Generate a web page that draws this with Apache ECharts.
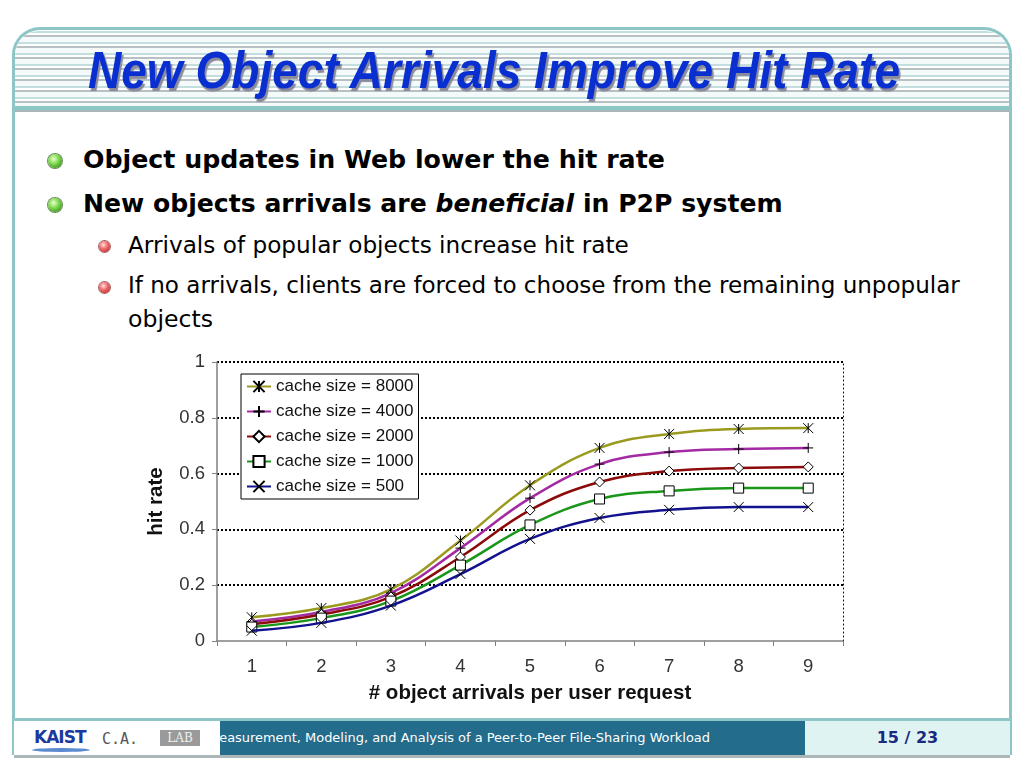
<!DOCTYPE html>
<html><head><meta charset="utf-8">
<script src="https://cdn.jsdelivr.net/npm/echarts@6/dist/echarts.min.js"></script>
<style>
html,body{margin:0;padding:0;width:1024px;height:768px;overflow:hidden;background:#fff;}
#frame{position:absolute;left:12px;top:27px;width:1000px;height:728px;border:3px solid #8cc6c6;border-bottom:none;border-radius:28px 28px 0 0;box-sizing:border-box;}
#stripes{position:absolute;left:15px;top:31px;width:994px;height:76px;
 background:repeating-linear-gradient(to bottom,#c2dede 0px,#c2dede 2px,#ffffff 2px,#ffffff 4px,#b7c1c3 4px,#b7c1c3 6px,#f4f9f9 6px,#f4f9f9 11px);
 border-radius:24px 24px 0 0;}
#tbar{position:absolute;left:15px;top:106px;width:994px;height:4px;background:#8cc6c6;border-bottom:2px solid #aab6b8;}
#title{position:absolute;white-space:nowrap;font-family:"Liberation Sans",Arial,sans-serif;font-weight:bold;font-style:italic;color:#0a2fd0;
 text-shadow:2px 3px 1px #8a8a9a;transform-origin:0 0;}
.t{position:absolute;white-space:nowrap;color:#000;}
.b1{font-family:"DejaVu Sans",Verdana,sans-serif;font-weight:bold;}
.b2{font-family:"DejaVu Sans",Verdana,sans-serif;}
.ball{position:absolute;border-radius:50%;}
.g{width:14px;height:14px;background:radial-gradient(circle at 40% 35%,#e8ffd8 0%,#8ee05a 35%,#3a9a1a 80%,#2a6a10 100%);box-shadow:0 0 0 1px #6a8a60;}
.r{width:11px;height:11px;background:radial-gradient(circle at 40% 35%,#ffe0e0 0%,#f07070 40%,#c02a2a 85%,#901818 100%);box-shadow:0 0 0 1px #a06060;}
#foot{position:absolute;left:14px;top:718px;width:996px;height:34px;border-top:3px solid #8cc6c6;border-bottom:3px solid #aab6b8;box-sizing:content-box;background:#fff;}
#fdark{position:absolute;left:206px;top:0;width:585px;height:34px;background:#236c8c;overflow:hidden;}
#ftext{position:absolute;white-space:nowrap;color:#fff;font-family:"DejaVu Sans Condensed","DejaVu Sans",sans-serif;font-size:13px;top:9px;left:-12px;transform-origin:0 0;}
#fright{position:absolute;left:791px;top:0;width:205px;height:34px;background:#dff3f3;}
#page{position:absolute;left:0;width:205px;text-align:center;top:7px;font-family:"DejaVu Sans",sans-serif;font-weight:bold;font-size:16px;color:#1a2a80;}
#kaist{position:absolute;left:20px;top:6px;font-family:"DejaVu Sans",sans-serif;font-weight:bold;font-size:17px;color:#1a3aa0;letter-spacing:-1px;}
#kswoosh{position:absolute;left:18px;top:27px;width:58px;height:4px;border-radius:50%;background:#5a8ad0;}
#calab{position:absolute;left:88px;top:9px;font-family:"DejaVu Sans Mono",monospace;font-size:15px;color:#555;}
#lab{position:absolute;left:146px;top:9px;width:40px;height:16px;background:#9a9a9a;color:#eee;font-family:"DejaVu Serif",serif;font-size:12px;text-align:center;line-height:16px;}
#chart{position:absolute;left:0;top:0;width:1024px;height:768px;z-index:5;}
</style></head>
<body>
<div id="frame"></div>
<div id="stripes"></div>
<div id="tbar"></div>
<div id="title">New Object Arrivals Improve Hit Rate</div>

<div class="ball g" style="left:48px;top:154px"></div>
<div class="ball g" style="left:48px;top:198px"></div>
<div class="ball r" style="left:99px;top:241px"></div>
<div class="ball r" style="left:99px;top:282px"></div>
<div class="t b1" id="l1" data-fs="24">Object updates in Web lower the hit rate</div>
<div class="t b1" id="l2" data-fs="24">New objects arrivals are <i>beneficial</i> in P2P system</div>
<div class="t b2" id="l3" data-fs="20">Arrivals of popular objects increase hit rate</div>
<div class="t b2" id="l4" data-fs="20">If no arrivals, clients are forced to choose from the remaining unpopular</div>
<div class="t b2" id="l5" data-fs="20">objects</div>

<div id="foot">
 <div id="kaist">KAIST</div><div id="kswoosh"></div>
 <div id="calab">C.A.</div><div id="lab">LAB</div>
 <div id="fdark"><div id="ftext">Measurement, Modeling, and Analysis of a Peer-to-Peer File-Sharing Workload</div></div>
 <div id="fright"><div id="page">15 / 23</div></div>
</div>

<div id="chart"></div>
<script>
// ---- data ----
const categories = ['1','2','3','4','5','6','7','8','9'];
const seriesNames = ['cache size = 8000','cache size = 4000','cache size = 2000','cache size = 1000','cache size = 500'];
const hit8000 = [0.085, 0.118, 0.185, 0.360, 0.558, 0.692, 0.742, 0.760, 0.763];
const hit4000 = [0.070, 0.104, 0.172, 0.333, 0.512, 0.634, 0.677, 0.688, 0.692];
const hit2000 = [0.060, 0.095, 0.158, 0.301, 0.469, 0.570, 0.609, 0.620, 0.624];
const hit1000 = [0.050, 0.082, 0.143, 0.272, 0.416, 0.509, 0.538, 0.548, 0.548];
const hit500  = [0.037, 0.065, 0.127, 0.240, 0.366, 0.441, 0.470, 0.480, 0.480];
const yTicks = [0, 0.2, 0.4, 0.6, 0.8, 1];

// ---- text layout helpers ----
function placeText(id, x, base, w){
  const el = document.getElementById(id);
  let fs = parseFloat(el.dataset.fs);
  el.style.fontSize = fs+'px'; el.style.lineHeight = fs+'px';
  const cur = el.getBoundingClientRect().width;
  fs = fs*w/cur;
  el.style.fontSize = fs+'px'; el.style.lineHeight = fs+'px';
  el.style.left = x+'px'; el.style.top = (base-0.846*fs)+'px';
}
placeText('l1', 83, 168, 582);
placeText('l2', 83, 212, 700);
placeText('l3', 128, 253, 501);
placeText('l4', 128, 294, 832);
placeText('l5', 128, 328, 85);
(function(){
  const t = document.getElementById('title');
  const fs = 52; t.style.fontSize = fs+'px'; t.style.lineHeight = fs+'px';
  const w = t.getBoundingClientRect().width;
  t.style.left='88px'; t.style.top=(88-0.846*fs)+'px';
  t.style.transform='scaleX('+(812/w)+')';
  const f = document.getElementById('ftext');
  const fw = f.getBoundingClientRect().width;
  f.style.transform='scaleX('+(502/fw)+')';
})();

// ---- chart ----
const colors = ['#9a9a1e','#a42aa4','#8c0a0a','#1a961a','#12128e'];
const symbols = [
  'path://M0,0L10,10M10,0L0,10M5,0L5,10',
  'path://M5,0L5,10M0,5L10,5',
  'diamond',
  'rect',
  'path://M0,0L10,10M10,0L0,10'
];
const dataSets = [hit8000, hit4000, hit2000, hit1000, hit500];
const chart = echarts.init(document.getElementById('chart'), null, {renderer:'canvas'});
const font = '"Liberation Sans", Arial, sans-serif';
chart.setOption({
  animation:false,
  grid:{left:217, right:181, top:362, bottom:127},
  legend:{
    orient:'vertical', left:241, top:374, data:seriesNames,
    backgroundColor:'#fff', borderColor:'#000', borderWidth:1,
    padding:[4,5,4,5], itemGap:8, itemWidth:24, itemHeight:14,
    textStyle:{fontSize:17, color:'#111', fontFamily:font}
  },
  xAxis:{
    type:'category', data:categories, boundaryGap:true,
    axisLine:{lineStyle:{color:'#808080', width:1.5}},
    axisTick:{show:true, length:5, lineStyle:{color:'#808080'}},
    axisLabel:{margin:16, fontSize:18.5, color:'#333', fontFamily:font},
    name:'# object arrivals per user request', nameLocation:'middle', nameGap:42,
    nameTextStyle:{fontSize:20.5, fontWeight:'bold', color:'#111', fontFamily:font}
  },
  yAxis:[{
    type:'value', min:0, max:1, interval:0.2,
    axisLine:{show:true, lineStyle:{color:'#808080', width:1.5}},
    axisTick:{show:true, length:5, lineStyle:{color:'#808080'}},
    axisLabel:{margin:12, fontSize:18.5, color:'#333', fontFamily:font,
      formatter:v => String(yTicks.find(t => Math.abs(t-v)<1e-9) ?? v)},
    splitLine:{show:true, showMinLine:false, lineStyle:{type:[2,2], color:'#000', width:2}},
    name:'hit rate', nameLocation:'middle', nameGap:50, nameRotate:90,
    nameTextStyle:{fontSize:20.5, fontWeight:'bold', color:'#111', fontFamily:font}
  },{
    type:'value', min:0, max:1, interval:0.2, position:'right',
    axisLine:{show:true, lineStyle:{color:'#000', type:[1,3], width:1}},
    axisTick:{show:false}, axisLabel:{show:false}, splitLine:{show:false}
  }],
  series: seriesNames.map((n,i)=>({
    name:n, type:'line', data:dataSets[i], smooth:0.4,
    symbol:symbols[i], symbolSize:10, showAllSymbol:true,
    lineStyle:{color:colors[i], width:2.5},
    itemStyle:{color:'#fff', borderColor:'#000', borderWidth:1},
    z:2+i
  }))
});
</script>
</body></html>
